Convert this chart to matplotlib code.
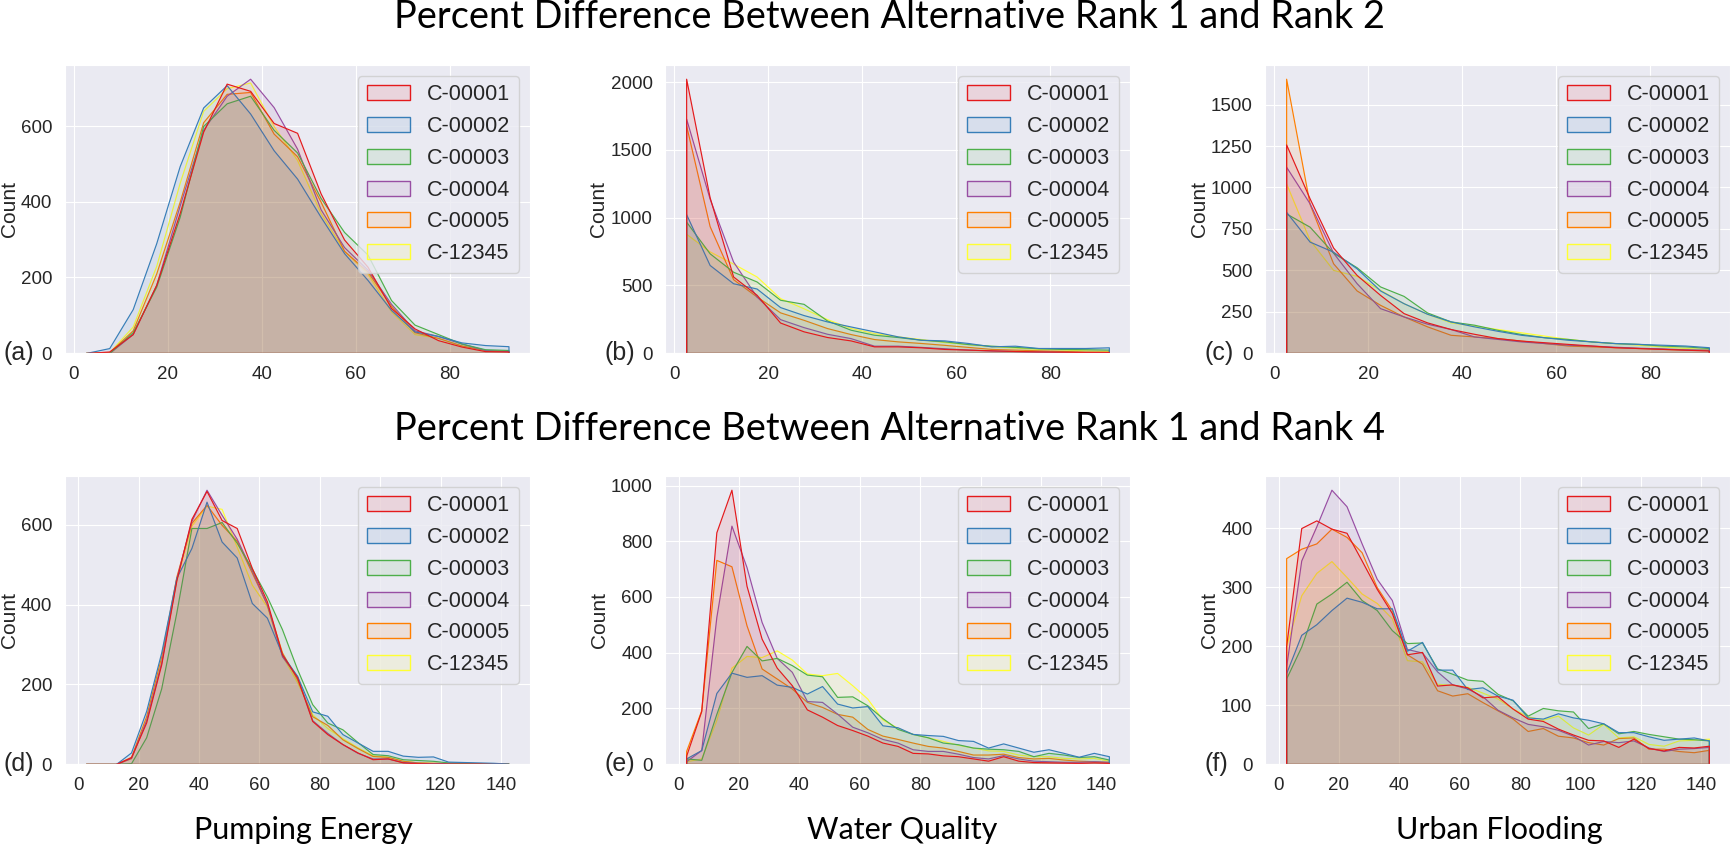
import matplotlib.pyplot as plt
import numpy as np
import seaborn as sns
from matplotlib.colors import to_rgba
from matplotlib.patches import Patch
from matplotlib.ticker import MultipleLocator

sns.set_style("darkgrid")
plt.rcParams['font.family'] = ['Liberation Sans', 'DejaVu Sans']

scenarios = ['C-00001', 'C-00002', 'C-00003', 'C-00004', 'C-00005', 'C-12345']
colors = ['#e41a1c', '#377eb8', '#4daf4a', '#984ea3', '#ff7f00', '#ffff33']
objectives = ['Pumping Energy', 'Water Quality', 'Urban Flooding']
row_titles = ['Percent Difference Between Alternative Rank 1 and Rank 2',
              'Percent Difference Between Alternative Rank 1 and Rank 4']
panel_tags = ['(a)', '(b)', '(c)', '(d)', '(e)', '(f)']

# bins of 5 percent
edges_rank2 = np.arange(0, 100, 5)
edges_rank4 = np.arange(0, 150, 5)

# counts per bin, one row per scenario (same order as scenarios)
pumping_rank2 = [
    [0, 4, 50, 180, 370, 585, 712, 693, 608, 582, 422, 300, 228, 119, 65, 34, 17, 5, 4],
    [0, 13, 116, 290, 494, 649, 708, 633, 536, 461, 360, 264, 193, 114, 57, 45, 28, 21, 18],
    [0, 0, 55, 175, 360, 600, 660, 680, 590, 530, 410, 320, 260, 140, 75, 50, 25, 10, 8],
    [0, 0, 50, 180, 390, 590, 680, 725, 650, 540, 380, 280, 220, 130, 60, 45, 25, 8, 5],
    [0, 2, 60, 210, 400, 610, 685, 690, 580, 520, 400, 270, 215, 125, 55, 40, 20, 8, 5],
    [0, 2, 70, 230, 450, 640, 700, 715, 600, 510, 370, 270, 210, 110, 50, 40, 20, 8, 5],
]
quality_rank2 = [
    [2025, 1150, 565, 430, 225, 160, 118, 93, 49, 49, 42, 30, 25, 20, 15, 12, 10, 8, 8],
    [1025, 650, 515, 476, 339, 280, 233, 196, 160, 123, 98, 93, 74, 49, 54, 37, 37, 37, 42],
    [970, 736, 600, 528, 393, 363, 240, 172, 135, 118, 98, 86, 66, 54, 45, 35, 30, 28, 25],
    [1730, 1140, 675, 417, 250, 191, 142, 110, 54, 54, 45, 35, 25, 18, 14, 10, 8, 6, 5],
    [1680, 937, 545, 417, 300, 245, 184, 140, 103, 86, 74, 60, 45, 30, 25, 20, 15, 10, 8],
    [880, 750, 660, 565, 405, 330, 250, 185, 147, 123, 103, 80, 65, 50, 40, 30, 25, 20, 15],
]
flooding_rank2 = [
    [1260, 934, 637, 472, 351, 241, 185, 145, 116, 90, 75, 65, 55, 45, 35, 30, 25, 20, 15],
    [853, 673, 612, 512, 378, 301, 237, 191, 161, 134, 110, 95, 80, 70, 60, 55, 50, 45, 35],
    [843, 763, 606, 518, 402, 345, 245, 191, 171, 140, 115, 95, 85, 70, 60, 55, 45, 40, 30],
    [1125, 904, 606, 422, 271, 221, 177, 145, 100, 85, 70, 60, 50, 45, 38, 32, 28, 22, 20],
    [1657, 900, 542, 378, 291, 221, 161, 110, 100, 90, 75, 60, 45, 40, 35, 30, 25, 20, 18],
    [1024, 683, 502, 466, 382, 301, 237, 185, 165, 145, 125, 105, 85, 70, 60, 50, 40, 30, 25],
]
pumping_rank4 = [
    [0, 0, 0, 17, 104, 250, 460, 615, 685, 612, 592, 492, 408, 275, 217,
     108, 75, 50, 29, 12, 14, 4, 2, 1, 1, 1, 1, 0, 0],
    [0, 0, 0, 29, 133, 280, 467, 542, 658, 558, 518, 404, 367, 275, 221,
     132, 121, 75, 54, 33, 33, 21, 18, 19, 6, 5, 4, 3, 1],
    [0, 0, 0, 2, 67, 190, 380, 592, 592, 607, 555, 490, 420, 338, 238,
     150, 104, 87, 55, 25, 22, 12, 10, 8, 4, 3, 2, 2, 1],
    [0, 0, 0, 15, 110, 255, 465, 610, 688, 625, 565, 485, 400, 270, 220,
     110, 78, 50, 28, 14, 14, 5, 3, 2, 2, 1, 1, 0, 0],
    [0, 0, 0, 18, 120, 270, 470, 605, 650, 600, 560, 480, 400, 280, 212,
     120, 98, 62, 40, 20, 18, 8, 4, 3, 3, 3, 2, 2, 1],
    [0, 0, 0, 14, 112, 260, 462, 598, 648, 640, 545, 450, 395, 272, 205,
     125, 90, 65, 42, 22, 18, 8, 4, 3, 2, 2, 1, 1, 0],
]
quality_rank4 = [
    [30, 190, 832, 985, 640, 450, 346, 283, 196, 170, 140, 122, 102, 77, 65,
     40, 38, 31, 28, 20, 12, 28, 12, 7, 6, 5, 4, 6, 4],
    [20, 50, 255, 328, 313, 319, 285, 277, 253, 280, 217, 203, 208, 139, 132,
     108, 104, 101, 86, 83, 59, 74, 59, 44, 53, 40, 26, 40, 28],
    [20, 15, 180, 330, 424, 372, 381, 355, 321, 315, 241, 243, 211, 165, 126,
     108, 96, 77, 71, 59, 55, 53, 47, 28, 40, 34, 25, 28, 16],
    [10, 50, 528, 856, 707, 510, 381, 331, 226, 223, 181, 134, 114, 90, 77,
     53, 47, 47, 37, 25, 20, 32, 20, 12, 10, 8, 8, 10, 8],
    [47, 193, 733, 710, 498, 343, 307, 271, 223, 205, 180, 170, 126, 102, 90,
     77, 65, 59, 47, 34, 34, 37, 25, 20, 22, 16, 12, 10, 7],
    [10, 20, 158, 346, 388, 384, 408, 375, 325, 319, 327, 283, 235, 160, 130,
     108, 96, 83, 69, 59, 49, 47, 34, 28, 28, 22, 20, 22, 12],
]
flooding_rank4 = [
    [200, 400, 413, 399, 392, 345, 297, 256, 186, 190, 133, 135, 130, 113, 115,
     94, 77, 73, 60, 50, 41, 40, 29, 43, 27, 23, 29, 28, 31],
    [154, 219, 237, 261, 282, 275, 264, 264, 192, 207, 160, 160, 127, 130, 116,
     109, 79, 77, 86, 79, 75, 69, 54, 54, 47, 41, 43, 45, 40],
    [145, 199, 272, 289, 309, 278, 261, 227, 205, 206, 162, 153, 143, 141, 119,
     108, 82, 95, 91, 89, 61, 69, 52, 56, 51, 47, 43, 42, 40],
    [165, 345, 403, 465, 437, 374, 314, 278, 195, 189, 157, 135, 128, 115, 92,
     79, 68, 64, 58, 48, 33, 39, 37, 40, 28, 22, 26, 27, 29],
    [349, 365, 374, 399, 385, 359, 300, 261, 186, 170, 125, 116, 120, 105, 91,
     77, 56, 61, 48, 45, 37, 33, 44, 45, 26, 26, 22, 20, 24],
    [200, 286, 324, 344, 317, 289, 273, 247, 176, 174, 136, 134, 131, 121, 111,
     94, 81, 75, 82, 62, 50, 68, 45, 47, 34, 31, 40, 41, 43],
]

panels = [(pumping_rank2, edges_rank2), (quality_rank2, edges_rank2), (flooding_rank2, edges_rank2),
          (pumping_rank4, edges_rank4), (quality_rank4, edges_rank4), (flooding_rank4, edges_rank4)]
y_steps = [200, 500, 250, 200, 200, 100]

FILL_ALPHA = 0.1

# layout in pixels
W, H = 1730, 846
fig = plt.figure(figsize=(W / 100, H / 100), dpi=100)
col_left = [64.6, 665, 1265]
row_top = [65, 476]
ax_w, ax_h = 465, 288

for k, (counts, edges) in enumerate(panels):
    r, c = divmod(k, 3)
    left, top = col_left[c], row_top[r]
    ax = fig.add_axes([left / W, 1 - (top + ax_h) / H, ax_w / W, ax_h / H])
    centers = edges[:-1] + 2.5
    # first scenario ends up on top, like seaborn's layered hue
    for name, col, y in reversed(list(zip(scenarios, colors, counts))):
        ax.fill_between(centers, 0, y, facecolor=to_rgba(col, FILL_ALPHA),
                        edgecolor=col, linewidth=0.85)
    ax.set_ylim(bottom=0)
    ax.yaxis.set_major_locator(MultipleLocator(y_steps[k]))
    ax.xaxis.set_major_locator(MultipleLocator(20))
    ax.tick_params(labelsize=13.5, pad=5.5)
    ax.set_ylabel('Count', fontsize=15, labelpad=1.5)
    handles = [Patch(facecolor=to_rgba(col, FILL_ALPHA), edgecolor=col, label=name)
               for name, col in zip(scenarios, colors)]
    ax.legend(handles=handles, loc='upper right', fontsize=15.5)
    fig.text((left - 61) / W, 1 - (top + ax_h) / H, panel_tags[k],
             fontsize=18, ha='left', va='center')

renderer = fig.canvas.get_renderer()


def fitted_text(x, y, s, width_px=None, size=None):
    t = fig.text(x / W, 1 - y / H, s, ha='center', va='baseline',
                 family=['Lato', 'DejaVu Sans'], fontsize=size or 30, color='black')
    if width_px is not None:
        bb = t.get_window_extent(renderer)
        t.set_fontsize(30 * width_px / bb.width)
    return t


fitted_text(889, 28, row_titles[0], width_px=988)
fitted_text(889, 440, row_titles[1], width_px=988)
lab = fitted_text(303, 839, objectives[0], width_px=219)
fs = lab.get_fontsize()
fitted_text(902, 839, objectives[1], size=fs)
fitted_text(1499, 839, objectives[2], size=fs)

fig.savefig('out.png', dpi=100)
